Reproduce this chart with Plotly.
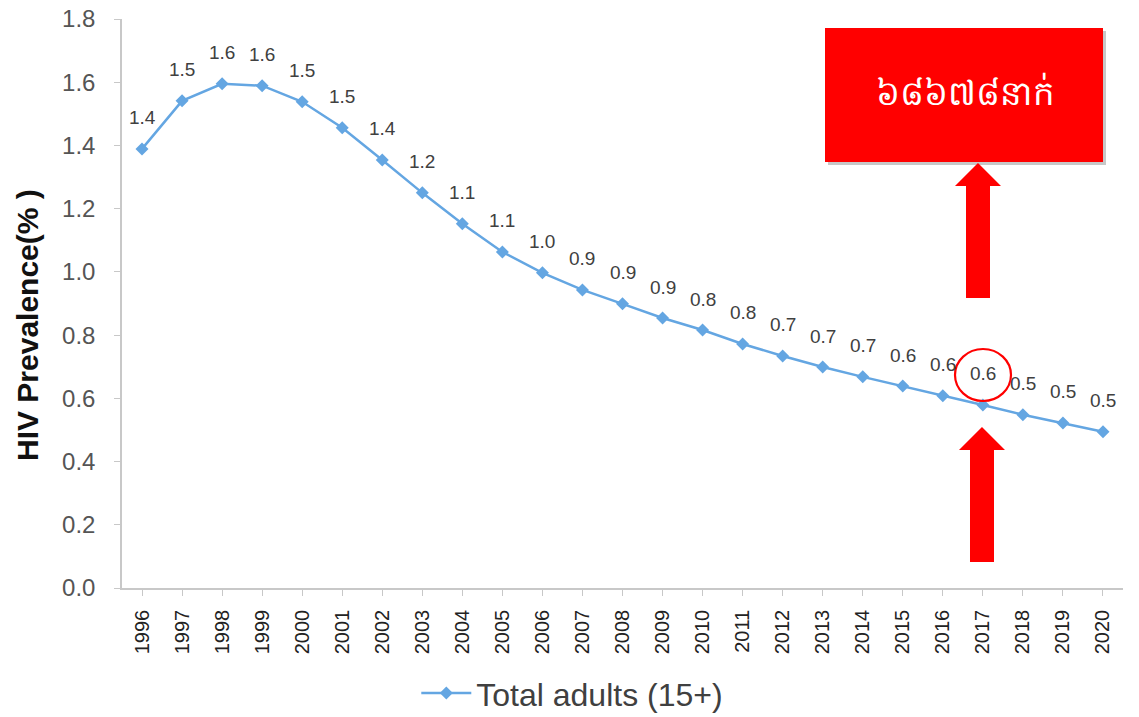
import plotly.graph_objects as go

years = list(range(1996, 2021))
prevalence = [1.389, 1.541, 1.595, 1.589, 1.538, 1.456, 1.354, 1.250, 1.152, 1.063,
              0.997, 0.943, 0.899, 0.854, 0.816, 0.772, 0.734, 0.699, 0.668, 0.639,
              0.608, 0.579, 0.548, 0.522, 0.494]
value_labels = ["1.4", "1.5", "1.6", "1.6", "1.5", "1.5", "1.4", "1.2", "1.1", "1.1",
                "1.0", "0.9", "0.9", "0.9", "0.8", "0.8", "0.7", "0.7", "0.7", "0.6",
                "0.6", "0.6", "0.5", "0.5", "0.5"]
series_name = "Total adults (15+)"
box_text = "៦៨៦៧៨នាក់"
y_title = "HIV Prevalence(% )"

LINE = "#64a6e2"
RED = "#ff0000"
FONT = "Liberation Sans, Arial"

fig = go.Figure()
fig.add_trace(go.Scatter(
    x=years, y=prevalence, mode="lines+markers", name=series_name,
    line=dict(color=LINE, width=2.5),
    marker=dict(symbol="diamond", size=10, color=LINE),
))

for x, y, t in zip(years, prevalence, value_labels):
    fig.add_annotation(x=x, y=y, text=t, showarrow=False, yshift=31,
                       font=dict(family=FONT, size=19, color="#404040"))

# plot area in window pixels: x 122..1123, y 19..588
def px(xp):
    return (xp - 122) / 1001.0

def py(yp):
    return (588 - yp) / 569.0

shapes = []
shapes.append(dict(type="rect", xref="paper", yref="paper",
                   x0=px(828), x1=px(1106), y0=py(165), y1=py(31),
                   fillcolor="rgba(0,0,0,0.22)", line=dict(width=0), layer="above"))
shapes.append(dict(type="rect", xref="paper", yref="paper",
                   x0=px(825), x1=px(1103), y0=py(162), y1=py(28),
                   fillcolor=RED, line=dict(width=0), layer="above"))

def arrow(cx, tip, base, bottom, hw, sw):
    pts = [(cx, tip), (cx + hw, base), (cx + sw, base), (cx + sw, bottom),
           (cx - sw, bottom), (cx - sw, base), (cx - hw, base)]
    path = "M " + " L ".join(f"{px(a):.5f},{py(b):.5f}" for a, b in pts) + " Z"
    return dict(type="path", xref="paper", yref="paper", path=path,
                fillcolor=RED, line=dict(width=0), layer="above")

shapes.append(arrow(978, 163, 186, 298, 23, 12))
shapes.append(arrow(982, 427, 450, 562, 23, 12))
shapes.append(dict(type="circle", xref="paper", yref="paper",
                   x0=px(955), x1=px(1011), y0=py(401), y1=py(349),
                   line=dict(color=RED, width=2.2), fillcolor="rgba(0,0,0,0)"))

fig.add_annotation(xref="paper", yref="paper", x=px(965), y=py(92), text=box_text,
                   showarrow=False, width=270, align="center", xanchor="center",
                   yanchor="middle",
                   font=dict(size=34, color="white"))

fig.add_annotation(xref="paper", yref="paper", x=px(27), y=py(325), text="<b>" + y_title + "</b>",
                   showarrow=False, textangle=-90, xanchor="center", yanchor="middle",
                   font=dict(family=FONT, size=30, color="#111111"))

fig.update_layout(
    width=1139, height=717,
    margin=dict(l=122, r=16, t=19, b=129, autoexpand=False),
    paper_bgcolor="white", plot_bgcolor="white",
    shapes=shapes,
    showlegend=True,
    legend=dict(orientation="h", x=0.294, xanchor="left", y=-0.185, yanchor="middle",
                itemwidth=50,
                font=dict(family=FONT, size=32, color="#404040")),
    font=dict(family=FONT),
)
fig.update_xaxes(range=[1995.5, 2020.5], tickmode="array", tickvals=years,
                 ticktext=[str(y) for y in years], tickangle=-90,
                 tickfont=dict(size=20, color="#222222"), automargin=False,
                 ticklabelstandoff=6, ticklabeloverflow="allow",
                 showline=True, linecolor="#c8c8c8", linewidth=1.5,
                 ticks="outside", ticklen=6, tickcolor="#c8c8c8",
                 showgrid=False, zeroline=False)
fig.update_yaxes(range=[0, 1.8], dtick=0.2, tickformat=".1f",
                 tickfont=dict(size=24, color="#555555"), automargin=False,
                 ticklabelstandoff=14, ticklabeloverflow="allow",
                 showline=True, linecolor="#c8c8c8", linewidth=1.5,
                 ticks="outside", ticklen=6, tickcolor="#c8c8c8",
                 showgrid=False, zeroline=False)

fig.write_html("out.html", config={"displayModeBar": False},
               post_script="document.body.style.margin='0';document.body.style.overflow='hidden';")
